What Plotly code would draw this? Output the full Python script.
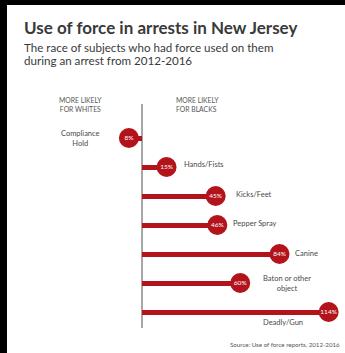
import plotly.graph_objects as go

# ---- data ----
categories = ["Compliance Hold", "Hands/Fists", "Kicks/Feet", "Pepper Spray",
              "Canine", "Baton or other object", "Deadly/Gun"]
values = [-8, 15, 45, 46, 84, 60, 114]
bubble_labels = ["8%", "15%", "45%", "46%", "84%", "60%", "114%"]

W, H = 345, 353
RED = "#b3141c"
GRAY = "#4a4a4a"
FONT = "Lato"

# pixel mapping helpers (plot area == full figure)
X0PX, XSCALE = 142.0, 1.637     # px of value 0, px per percent
Y0PX, YSTEP = 138.0, 29.0       # px of first row, px per row
xrange_ = [(0 - X0PX) / XSCALE, (W - X0PX) / XSCALE]
yrange_ = [(H - Y0PX) / YSTEP, (0 - Y0PX) / YSTEP]

def px(x):
    return x / W
def py(y):
    return 1 - y / H

ypos = list(range(len(categories)))

fig = go.Figure()
fig.add_trace(go.Bar(
    y=ypos, x=values, base=0, orientation="h", width=5 / YSTEP,
    marker=dict(color=RED, line=dict(width=0)), hoverinfo="skip",
))
fig.add_trace(go.Scatter(
    x=values, y=ypos, mode="markers+text",
    marker=dict(size=20, color=RED, line=dict(width=0)),
    text=bubble_labels, textposition="middle center",
    textfont=dict(family=FONT, size=6.5, color="white"),
    hoverinfo="skip",
))

shapes = [
    dict(type="rect", xref="paper", yref="paper", x0=px(7), x1=1, y0=0, y1=py(5),
         fillcolor="white", line=dict(width=0), layer="below"),
    dict(type="line", xref="x", yref="y", x0=0, x1=0,
         y0=(104 - Y0PX) / YSTEP, y1=(328 - Y0PX) / YSTEP,
         line=dict(color="#8a8a8a", width=1.5), layer="below"),
]

ann = []
def A(text, x, y, size, color=GRAY, xanchor="left", align="left", bold=False):
    if bold:
        text = "<b>" + text + "</b>"
    ann.append(dict(text=text, x=px(x), y=py(y), xref="paper", yref="paper",
                    xanchor=xanchor, yanchor="middle", align=align, showarrow=False,
                    font=dict(family=FONT, size=size, color=color)))

A("Use of force in arrests in New Jersey", 22, 27, 17, "#3a3a3a", bold=True)
A("The race of subjects who had force used on them", 22, 47, 11.6, "#3a3a3a")
A("during an arrest from 2012-2016", 22, 60, 11.6, "#3a3a3a")
A("MORE LIKELY<br>FOR WHITES", 80, 104, 6.8, "#555555", xanchor="center", align="center")
A("MORE LIKELY<br>FOR BLACKS", 174, 104, 6.8, "#555555", xanchor="left", align="left")

# category labels
A("Compliance<br>Hold", 80, 138, 7.5, GRAY, xanchor="center", align="center")
A("Hands/Fists", 182, 165, 7.5)
A("Kicks/Feet", 234, 194, 7.5)
A("Pepper Spray", 231, 223, 7.5)
A("Canine", 293, 253, 7.5)
A("Baton or other<br>object", 287, 283, 7.5, xanchor="center", align="center")
A("Deadly/Gun", 283, 322, 7.5, xanchor="center", align="center")
A("Source: Use of force reports, 2012-2016", 342, 344, 6.2, "#555555", xanchor="right", align="right")

fig.update_layout(
    width=W, height=H, margin=dict(l=0, r=0, t=0, b=0),
    paper_bgcolor="black", plot_bgcolor="rgba(0,0,0,0)",
    showlegend=False, shapes=shapes, annotations=ann,
    xaxis=dict(range=xrange_, visible=False, fixedrange=True),
    yaxis=dict(range=yrange_, visible=False, fixedrange=True),
    bargap=0,
)
fig.write_html("out.html")
